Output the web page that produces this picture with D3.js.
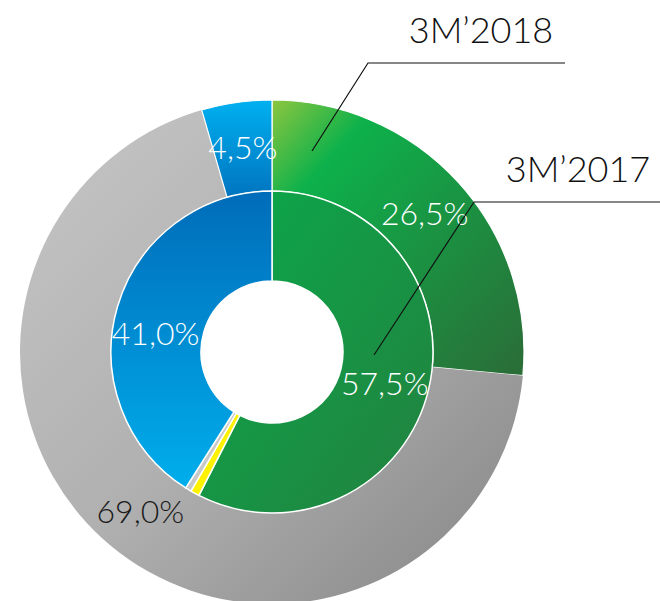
<!DOCTYPE html>
<html>
<head>
<meta charset="utf-8">
<script src="https://cdn.jsdelivr.net/npm/d3@7"></script>
<style>
  body { margin: 0; background: #fff; }
  svg text { font-family: Lato, "Open Sans", sans-serif; font-weight: 300; }
</style>
</head>
<body>
<div id="chart"></div>
<script>
// 3M'2018 (outer ring) and 3M'2017 (inner ring) shares, %
const outerLabels = ["green", "gray", "blue"];
const outerValues = [26.5, 69.0, 4.5];
const outerText = ["26,5%", "69,0%", "4,5%"];

const innerLabels = ["green", "yellow", "silver", "blue"];
const innerValues = [57.5, 0.9, 0.6, 41.0];
const innerText = ["57,5%", "", "", "41,0%"];

const seriesNames = ["3M’2018", "3M’2017"];

const width = 660, height = 601;
const cx = 272, cy = 352;
const rOuter = 252, rMid = 161, rHole = 71;

const svg = d3.select("#chart").append("svg")
    .attr("width", width)
    .attr("height", height);

const defs = svg.append("defs");

// gradients, one per fill
function grad(id, stops, x1, y1, x2, y2) {
    const g = defs.append("linearGradient")
        .attr("id", id)
        .attr("x1", x1).attr("y1", y1).attr("x2", x2).attr("y2", y2);
    stops.forEach(([o, c]) => g.append("stop").attr("offset", o).attr("stop-color", c));
}
grad("g-outer-green", [[0, "#8dc63f"], [0.22, "#0db14b"], [1, "#2b6c37"]], "0%", "0%", "100%", "100%");
grad("g-outer-gray", [[0, "#c6c6c6"], [0.5, "#b0b0b0"], [1, "#858585"]], "0%", "0%", "100%", "100%");
grad("g-outer-blue", [[0, "#00b0f0"], [1, "#0074bf"]], "0%", "0%", "0%", "100%");
grad("g-inner-green", [[0, "#0aaa4b"], [1, "#23803f"]], "0%", "0%", "100%", "100%");
grad("g-inner-blue", [[0, "#006cb9"], [1, "#00aeec"]], "0%", "0%", "0%", "100%");

const outerFill = { green: "url(#g-outer-green)", gray: "url(#g-outer-gray)", blue: "url(#g-outer-blue)" };
const innerFill = { green: "url(#g-inner-green)", yellow: "#fff200", silver: "#c8c8c8", blue: "url(#g-inner-blue)" };

const pie = d3.pie().sort(null).value(d => d.v);

const outerArc = d3.arc().innerRadius(rMid).outerRadius(rOuter);
const innerArc = d3.arc().innerRadius(rHole).outerRadius(rMid);

const outerData = pie(outerLabels.map((k, i) => ({ k, v: outerValues[i], t: outerText[i] })));
const innerData = pie(innerLabels.map((k, i) => ({ k, v: innerValues[i], t: innerText[i] })));

const g = svg.append("g").attr("transform", `translate(${cx},${cy})`);

const outerG = g.append("g");
outerG.selectAll("path")
    .data(outerData)
    .join("path")
    .attr("d", outerArc)
    .attr("fill", d => outerFill[d.data.k])
    .attr("stroke", d => d.data.k === "gray" ? "none" : "#fff")
    .attr("stroke-width", 1.2);

const innerG = g.append("g");
innerG.selectAll("path")
    .data(innerData)
    .join("path")
    .attr("d", innerArc)
    .attr("fill", d => innerFill[d.data.k])
    .attr("stroke", "#fff")
    .attr("stroke-width", 1.5);

// percentage labels at slice centroids
g.append("g").selectAll("text")
    .data(outerData)
    .join("text")
    .attr("transform", d => `translate(${outerArc.centroid(d)})`)
    .attr("dy", "0.36em")
    .attr("text-anchor", "middle")
    .attr("font-size", 32)
    .attr("fill", d => d.data.k === "gray" ? "#1a1a1a" : "#fff")
    .text(d => d.data.t);

g.append("g").selectAll("text")
    .data(innerData.filter(d => d.data.t))
    .join("text")
    .attr("transform", d => {
        const [x, y] = innerArc.centroid(d);
        return d.data.k === "blue" ? `translate(${x - 5},${y + 14})` : `translate(${x},${y + 4})`;
    })
    .attr("dy", "0.36em")
    .attr("text-anchor", "middle")
    .attr("font-size", 32)
    .attr("fill", "#fff")
    .text(d => d.data.t);

// leader lines with series titles
const leaders = [
    { name: seriesNames[0], pts: [[312, 151], [368, 63], [565, 63]], tx: 481, ty: 43 },
    { name: seriesNames[1], pts: [[374, 355], [474, 202], [660, 202]], tx: 578, ty: 182 }
];

svg.append("g").selectAll("path")
    .data(leaders)
    .join("path")
    .attr("d", d => d3.line()(d.pts))
    .attr("fill", "none")
    .attr("stroke", "#111")
    .attr("stroke-width", 1.2);

svg.append("g").selectAll("text")
    .data(leaders)
    .join("text")
    .attr("x", d => d.tx)
    .attr("y", d => d.ty)
    .attr("text-anchor", "middle")
    .attr("font-size", 36)
    .attr("fill", "#111")
    .text(d => d.name);
</script>
</body>
</html>
